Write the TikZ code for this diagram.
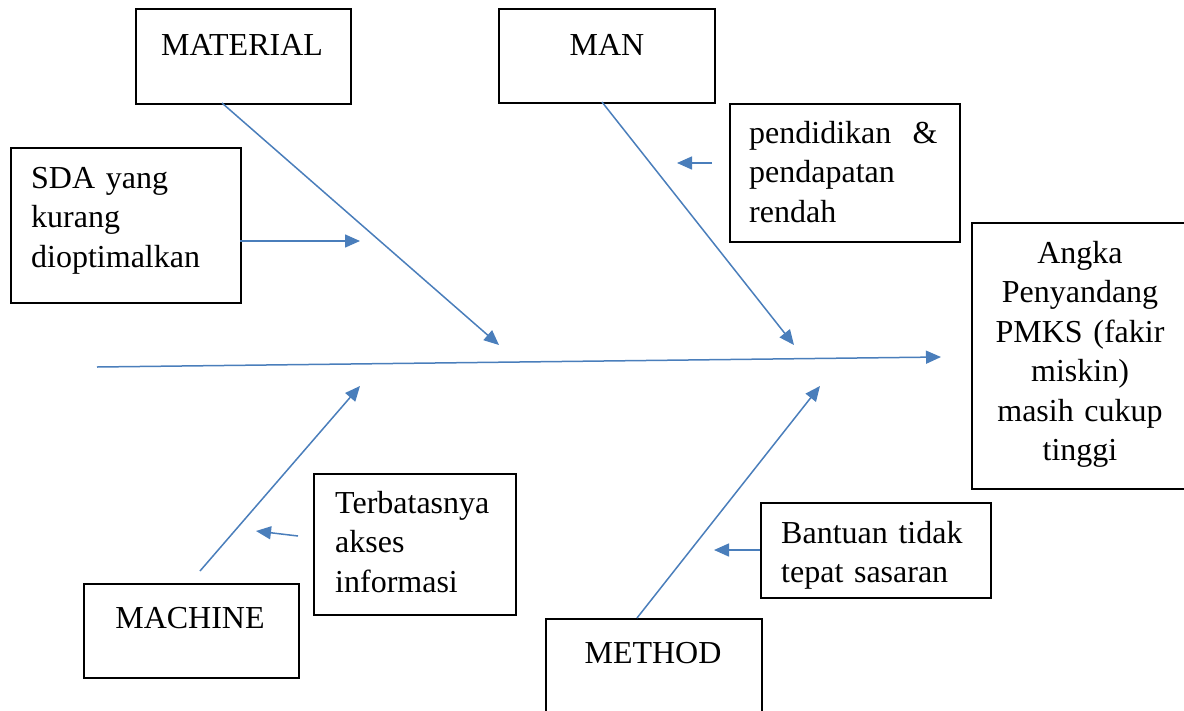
\documentclass[tikz,border=0pt]{standalone}
\usepackage{fontspec}
\setmainfont{Liberation Serif}
\usetikzlibrary{arrows.meta}
\definecolor{boneblue}{RGB}{74,126,187}
\tikzset{
  box/.style={draw=black, line width=2pt, inner sep=0pt, anchor=north west},
  openbox/.style={line width=2pt},
  bone/.style={draw=boneblue, line width=1.5pt, -{Triangle[length=15pt,width=13pt]}},
  lbl/.style={inner sep=0pt, font=\fontsize{32}{39.5}\selectfont},
  lblL/.style={lbl, anchor=base west, align=left, text width=#1},
  lblC/.style={lbl, anchor=base, align=center, text width=#1},
}
\begin{document}
\begin{tikzpicture}[x=1pt,y=-1pt]
\useasboundingbox (0,0) rectangle (1184,710);
% boxes
\node[box, minimum width=215pt, minimum height=95pt] (mat) at (135,8) {};
\node[box, minimum width=216pt, minimum height=94pt] (man) at (498,8) {};
\node[box, minimum width=230pt, minimum height=155pt] (sda) at (10,147) {};
\node[box, minimum width=230pt, minimum height=138pt] (pend) at (729,103) {};
\node[box, draw=none, minimum width=212pt, minimum height=264pt] (eff) at (972,223) {};
\draw[openbox] (eff.north east) -- (eff.north west) -- (eff.south west) -- (eff.south east);
\node[box, minimum width=202pt, minimum height=141pt] (terb) at (313,473) {};
\node[box, minimum width=215pt, minimum height=94pt] (mach) at (83,583) {};
\node[box, minimum width=216pt, minimum height=110pt] (meth) at (545,618) {};
\node[box, minimum width=230pt, minimum height=95pt] (bant) at (760,502) {};
% texts
\node[lbl, anchor=base] (matT) at (242,55) {MATERIAL};
\node[lbl, anchor=base] (manT) at (607,55) {MAN};
\node[lblL=210pt] (sdaT) at (31,188) {SDA yang\\kurang\\dioptimalkan};
\node[lblL=210pt] (pendT) at (749,143) {pendidikan~~\&\\pendapatan\\rendah};
\node[lblC=200pt] (effT) at (1080,263) {Angka\\Penyandang\\PMKS (fakir\\miskin)\\masih cukup\\tinggi};
\node[lblL=185pt] (terbT) at (335,513) {Terbatasnya\\akses\\informasi};
\node[lbl, anchor=base] (machT) at (190,628) {MACHINE};
\node[lbl, anchor=base] (methT) at (653,663) {METHOD};
\node[lblL=205pt] (bantT) at (781,543) {Bantuan tidak\\tepat sasaran};
% connector end points
\coordinate (spineS) at (97,367);
\coordinate (spineE) at (941,357);
\coordinate (matS) at (222,103);
\coordinate (matE) at (499,345);
\coordinate (manS) at (602,102);
\coordinate (manE) at (794,345);
\coordinate (machS) at (200,571);
\coordinate (machE) at (360,386);
\coordinate (methS) at (637,618);
\coordinate (methE) at (820,386);
\coordinate (sdaS) at (240,241);
\coordinate (sdaE) at (360,241);
\coordinate (pendS) at (712,163);
\coordinate (pendE) at (677,163);
\coordinate (terbS) at (298,536);
\coordinate (terbE) at (256,531);
\coordinate (bantS) at (760,550);
\coordinate (bantE) at (714,550);
% connectors
\draw[bone] (spineS) -- (spineE);
\draw[bone] (matS) -- (matE);
\draw[bone] (manS) -- (manE);
\draw[bone] (machS) -- (machE);
\draw[bone] (methS) -- (methE);
\draw[bone] (sdaS) -- (sdaE);
\draw[bone] (pendS) -- (pendE);
\draw[bone] (terbS) -- (terbE);
\draw[bone] (bantS) -- (bantE);
\end{tikzpicture}
\end{document}
